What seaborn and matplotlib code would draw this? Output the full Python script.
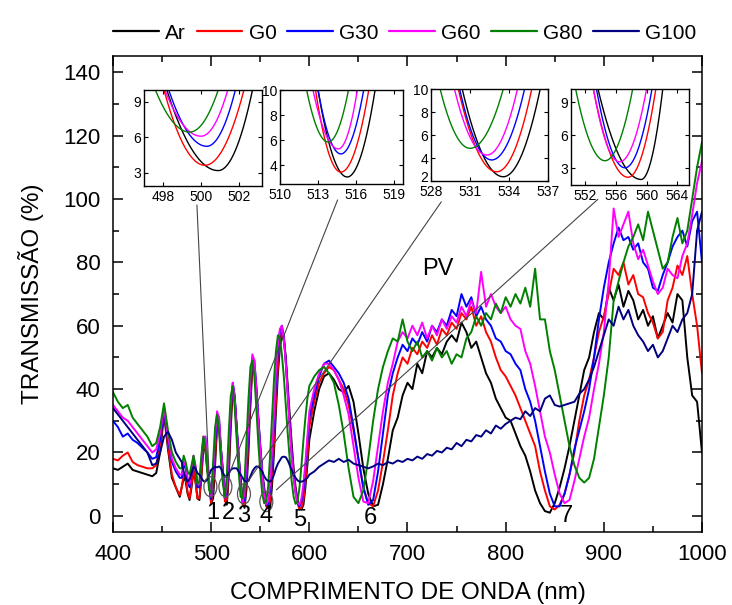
import numpy as np
import pandas as pd
import matplotlib
matplotlib.use("Agg")
import matplotlib.pyplot as plt
import matplotlib.transforms as mtransforms
import seaborn as sns
from matplotlib.patches import Ellipse
from matplotlib.lines import Line2D
from matplotlib.ticker import MultipleLocator

# ---------------- data ----------------
samples = ["Ar", "G0", "G30", "G60", "G80", "G100"]
colors = ["#000000", "#ff0000", "#0000ff", "#ff00ff", "#008000", "#000080"]

wl_a = [400, 405, 410, 415, 420, 425, 430, 435, 440, 444, 448, 452, 456, 460, 464, 468]
wl_b = list(range(470, 601, 2))
wl_c = list(range(605, 1001, 5))
wavelength = wl_a + wl_b + wl_c

ar_a = [15.0, 14.5, 15.5, 16.5, 14.5, 14.0, 13.5, 13.0, 12.5, 13.5, 20, 32, 21, 12, 9, 6]
ar_b = [9, 12, 11, 7, 5, 9, 14, 11, 5.5, 5,
        12, 21, 21, 15, 10.5, 4, 5.5, 16, 28, 28,
        21, 14, 5.5, 3.5, 13, 28, 40, 37, 28, 19,
        12, 5, 2.5, 8.5, 20, 35, 47, 47, 40, 31,
        22, 14, 9, 4.5, 2.4, 2.3, 9.5, 20, 33, 45,
        53, 57, 56, 50, 41, 32, 23, 15, 9, 5,
        2.5, 2, 3.5, 9, 16, 24]
ar_c = [33, 40, 44, 45, 43, 40, 39, 41, 36, 26,
        15, 7, 3, 3.5, 10, 18, 27, 31, 38, 42,
        40, 48, 45, 52, 50, 53, 51, 55, 57, 55,
        61, 58, 53, 55, 50, 45, 42, 37, 34, 31,
        30, 26, 22, 19, 14, 8, 4, 1.5, 1, 4,
        9, 15, 22, 30, 38, 46, 50, 58, 64, 62,
        72, 68, 73, 66, 71, 68, 62, 65, 60, 63,
        56, 60, 64, 61, 70, 68, 50, 38, 36, 20]

g0_a = [18, 17.5, 19, 20, 17, 16, 15.5, 15, 15, 16, 22, 34, 22, 13, 9, 6.5]
g0_b = [9, 13, 12, 7.5, 5.5, 10, 15, 11, 5.5, 5.5,
        13, 22, 22, 15, 10, 3.8, 8.5, 19, 29, 29,
        19, 13, 4.5, 5, 16, 31, 41, 37, 27, 18,
        10.5, 3.5, 3.5, 12, 24, 38, 48, 47, 39, 30,
        20, 13, 7.5, 3, 2.3, 5, 13, 24, 37, 48,
        55, 58, 56, 49, 39, 29, 20, 13, 8, 4,
        2, 2.5, 5, 11, 19, 28]
g0_c = [36, 42, 45, 47, 46, 43, 40, 35, 27, 18,
        9, 4, 3, 8, 17, 27, 38, 45, 50, 48,
        53, 51, 55, 53, 57, 54, 59, 57, 61, 59,
        64, 62, 66, 60, 63, 58, 55, 50, 46, 44,
        41, 38, 34, 30, 26, 22, 14, 8, 3, 2,
        3.5, 7, 13, 20, 30, 38, 43, 50, 58, 63,
        70, 78, 76, 80, 73, 76, 70, 69, 64, 61,
        56, 58, 68, 72, 79, 76, 82, 70, 60, 45]

g30_a = [30, 28, 25, 26, 24, 23, 21.5, 20, 18, 18.5, 24, 33, 24, 17, 14, 12]
g30_b = [12, 16, 15, 11, 9, 13, 18, 15, 9, 9,
         16, 24, 25, 17, 11, 5.3, 11, 22, 32, 31,
         21, 14, 5.5, 7, 19, 33, 42, 38, 28, 19,
         11, 4.2, 5, 15, 27, 40, 50, 49, 41, 31,
         22, 14, 8, 3.5, 3.5, 8, 17, 29, 42, 52,
         58, 60, 57, 49, 39, 29, 20, 13, 7.5, 4,
         3, 4.5, 8, 15, 23, 31]
g30_c = [38, 44, 48, 49, 47, 45, 42, 37, 28, 18,
         9, 3.5, 5, 14, 26, 38, 45, 50, 54, 52,
         56, 54, 58, 55, 60, 58, 62, 60, 65, 63,
         70, 66, 69, 63, 66, 62, 60, 56, 55, 52,
         51, 48, 46, 40, 36, 30, 22, 14, 7, 3,
         3, 7, 13, 21, 27, 33, 40, 50, 62, 72,
         80, 86, 91, 87, 88, 84, 86, 80, 78, 72,
         71, 76, 80, 85, 88, 90, 85, 93, 96, 80]

g60_a = [35, 33, 31, 30, 28, 26, 24, 22, 20, 21, 26, 34, 25, 18, 15, 13]
g60_b = [13, 17, 16, 12, 10, 14, 19, 16, 10, 10,
         17, 25, 25, 17, 10.5, 6.1, 13, 25, 33, 31,
         21, 13, 5.6, 9, 22, 35, 42, 37, 27, 18,
         9.5, 4.3, 7, 18, 30, 43, 51, 49, 40, 30,
         21, 13, 7, 3.7, 4.5, 10, 20, 32, 45, 54,
         59, 60, 56, 48, 38, 28, 19, 12, 7, 4,
         3.5, 5.5, 10, 17, 25, 33]
g60_c = [40, 45, 48, 48, 46, 43, 38, 32, 22, 12,
         4.5, 4, 11, 22, 33, 42, 48, 55, 58, 56,
         60, 57, 61, 56, 60, 57, 62, 59, 63, 61,
         66, 63, 68, 64, 77, 66, 70, 66, 64, 66,
         62, 60, 59, 52, 48, 41, 33, 25, 20, 13,
         7, 4, 5, 11, 18, 25, 31, 40, 48, 58,
         74, 97, 88, 92, 96, 86, 81, 84, 79, 74,
         70, 72, 78, 76, 75, 82, 86, 95, 105, 112]

g80_a = [39, 36, 34, 35, 31, 29, 27, 25, 22, 23, 28, 35.5, 27, 20, 17, 15]
g80_b = [15, 19, 17, 14, 13, 16, 19, 15, 10, 11,
         19, 25, 22, 14, 8, 7, 17, 28, 32, 27,
         17, 10, 5.9, 13, 27, 38, 41, 34, 24, 14,
         6, 5.5, 11, 24, 37, 47, 49, 44, 34, 23,
         14, 7, 4, 4.5, 9, 19, 31, 43, 52, 57,
         56, 51, 44, 35, 26, 18, 11, 6, 3.8, 4.5,
         9, 16, 24, 31, 37, 41]
g80_c = [44, 46, 47, 45, 42, 35, 26, 15, 6, 4,
         8, 18, 30, 40, 47, 52, 56, 55, 62, 55,
         52, 55, 50, 52, 49, 53, 50, 52, 48, 51,
         50, 56, 58, 63, 60, 64, 62, 67, 64, 69,
         66, 70, 67, 72, 66, 78, 62, 62, 52, 46,
         38, 30, 22, 16, 12, 10.5, 12, 18, 28, 38,
         50, 68, 74, 80, 85, 88, 92, 87, 96, 90,
         84, 78, 80, 88, 94, 86, 90, 100, 110, 118]

g100_a = [34, 32, 30, 28, 26, 24, 22, 20, 16, 16.5, 20, 25, 26.5, 24, 20, 18]
g100_b = [17, 14, 12, 10.8, 11.5, 13.5, 15.5, 15, 13.5, 13,
          12, 11, 10.8, 11.5, 13, 14.5, 15, 15.5, 15.3, 15.6,
          15, 13.5, 12.4, 12.5, 13.5, 14.5, 15, 15, 15, 14,
          13, 12, 11, 10.8, 11, 12.5, 14, 15, 15.6, 15.5,
          15, 14, 12.5, 11.5, 11, 10.8, 11.5, 13, 15, 16.5,
          17.5, 18.5, 18.7, 18.5, 17.5, 16, 14.5, 13, 12, 11.2,
          10.8, 10.8, 11, 11.5, 12, 13]
g100_c = [14, 15.5, 16.5, 17.5, 17, 18, 17, 17.7, 16.5, 16,
          15.5, 15, 15.6, 16.5, 16, 17, 16.5, 17.5, 17, 18,
          17.5, 18.7, 18, 19.5, 19, 20.5, 20, 21.5, 21, 23,
          22, 24, 23.5, 25.5, 25, 27, 26, 28.5, 27.5, 29,
          30, 31, 30.5, 33, 31.5, 34, 33, 37, 38, 35,
          34.5, 35, 35.5, 36, 38.5, 40, 43, 47, 52, 57,
          62, 60, 66, 62, 65, 60, 57, 55, 52, 54,
          50, 52, 56, 60, 58, 62, 64, 70, 90, 96]

series = {
    "Ar": ar_a + ar_b + ar_c,
    "G0": g0_a + g0_b + g0_c,
    "G30": g30_a + g30_b + g30_c,
    "G60": g60_a + g60_b + g60_c,
    "G80": g80_a + g80_b + g80_c,
    "G100": g100_a + g100_b + g100_c,
}
for k, v in series.items():
    if len(v) != len(wavelength):
        raise ValueError(f"{k}: {len(v)} vs {len(wavelength)}")

# Inset minima: order Ar, G0, G30, G60, G80
inset_xlims = [(497.0, 503.2), (510.0, 519.7), (528.0, 537.0), (550.2, 565.5)]
inset_ylims = [(1.9, 10.0), (2.5, 10.0), (2.0, 10.0), (1.5, 10.2)]
inset_xticks = [[498, 500, 502], [510, 513, 516, 519], [528, 531, 534, 537], [552, 556, 560, 564]]
inset_yticks = [[3, 6, 9], [4, 6, 8, 10], [2, 4, 6, 8, 10], [3, 6, 9]]
inset_min_x = [[500.9, 500.2, 500.3, 500.0, 499.4],
               [515.3, 514.8, 514.8, 514.6, 513.8],
               [533.56, 533.05, 532.67, 532.3, 531.0],
               [559.3, 557.6, 557.2, 556.5, 554.6]]
inset_min_y = [[3.2, 3.65, 5.25, 6.1, 6.45],
               [3.06, 3.45, 4.9, 5.3, 5.85],
               [2.37, 2.8, 3.83, 4.26, 4.84],
               [2.0, 2.2, 3.06, 3.6, 3.7]]
inset_left_x = [[498.2, 498.05, 498.3, 498.1, 497.6],
                [513.0, 512.8, 513.0, 512.6, 512.1],
                [530.4, 530.1, 530.2, 529.8, 528.7],
                [553.7, 553.1, 553.5, 553.1, 550.8]]
inset_right_x = [[502.7, 502.25, 501.8, 501.4, 500.9],
                 [517.5, 517.0, 516.6, 516.1, 515.4],
                 [536.4, 535.75, 535.2, 534.65, 533.56],
                 [562.1, 561.2, 560.7, 560.0, 558.2]]
# inset boxes in pixels: (left, top, right, bottom)
inset_px = [(144, 90, 262, 186), (280, 90, 403, 184), (431, 89, 548, 181), (571, 89, 689, 185)]

minima_labels = ["1", "2", "3", "4", "5", "6", "7"]
minima_label_x = [501.7, 518.0, 533.4, 555.5, 590.1, 662.1, 861.7]
minima_label_y = [0.9, 0.9, -0.2, -0.2, -1.3, -0.7, -0.2]

circle_x = [499.2, 514.5, 533.4, 556.2]
circle_y = [9.2, 9.2, 6.9, 4.5]
link_start = [(485.5, 98.1), (628.8, 99.7), (734.4, 99.1), (893.9, 99.9)]
link_end = [(498.0, 12.0), (516.8, 12.0), (535.1, 9.8), (566.4, 8.2)]

# ---------------- figure ----------------
sns.set_theme(style="ticks")
plt.rcParams["font.family"] = ["Liberation Sans", "DejaVu Sans"]
plt.rcParams["axes.linewidth"] = 1.1
plt.rcParams["text.color"] = "black"
plt.rcParams["axes.labelcolor"] = "black"
plt.rcParams["xtick.color"] = "black"
plt.rcParams["ytick.color"] = "black"
plt.rcParams["axes.edgecolor"] = "black"

W, H = 732, 605
fig = plt.figure(figsize=(W / 100, H / 100), dpi=100)
ax = fig.add_axes([113 / W, 1 - 531.7 / H, (702 - 113) / W, (531.7 - 56.4) / H])

df = pd.DataFrame({
    "wavelength": np.tile(wavelength, len(samples)),
    "T": np.concatenate([series[s] for s in samples]),
    "sample": np.repeat(samples, len(wavelength)),
})
palette = dict(zip(samples, colors))
sns.lineplot(data=df, x="wavelength", y="T", hue="sample", hue_order=samples,
             palette=palette, estimator=None, sort=False, linewidth=1.4,
             legend=False, ax=ax)

ax.set_xlim(400, 1000)
ax.set_ylim(-5, 145)
ax.xaxis.set_major_locator(MultipleLocator(100))
ax.xaxis.set_minor_locator(MultipleLocator(50))
ax.yaxis.set_major_locator(MultipleLocator(20))
ax.yaxis.set_minor_locator(MultipleLocator(10))
ax.tick_params(which="both", direction="in", top=True, right=True, width=1.1,
               labelsize=16, colors="black")
ax.tick_params(which="major", length=7, pad=9)
ax.tick_params(which="minor", length=4)
ax.set_yticks([0, 20, 40, 60, 80, 100, 120, 140])
ax.set_xlabel("COMPRIMENTO DE ONDA (nm)", fontsize=17.5, labelpad=12, color="black")
ax.set_ylabel("TRANSMISSÃO (%)", fontsize=17.5, labelpad=14, color="black")

# circles and links
for cx, cy in zip(circle_x, circle_y):
    ax.add_patch(Ellipse((cx, cy), 13.2, 6.3, fill=False, edgecolor="#555555", lw=0.9, zorder=5))
for (x0, y0), (x1, y1) in zip(link_start, link_end):
    ax.plot([x0, x1], [y0, y1], color="#444444", lw=0.8, zorder=5)

for t, x, y in zip(minima_labels, minima_label_x, minima_label_y):
    ax.text(x, y, t, fontsize=17, ha="center", va="center", color="black", zorder=6)
ax.text(731, 78, "PV", fontsize=17, ha="center", va="center", color="black")

# insets
for i in range(4):
    l, t, r, b = inset_px[i]
    iax = fig.add_axes([l / W, 1 - b / H, (r - l) / W, (b - t) / H])
    iax.set_facecolor("white")
    x0, x1 = inset_xlims[i]
    ytop = inset_ylims[i][1]
    rows = []
    for j, s in enumerate(samples[:5]):
        m = inset_min_x[i][j]
        v = inset_min_y[i][j]
        L = inset_left_x[i][j]
        R = inset_right_x[i][j]
        xs = np.linspace(x0, x1, 300)
        hw = np.where(xs < m, m - L, R - m)
        ys = v + (ytop - v) * ((xs - m) / hw) ** 2
        rows.append(pd.DataFrame({"x": xs, "y": ys, "sample": s}))
    idf = pd.concat(rows, ignore_index=True)
    sns.lineplot(data=idf, x="x", y="y", hue="sample", hue_order=samples[:5],
                 palette=palette, estimator=None, sort=False, linewidth=1.0,
                 legend=False, ax=iax)
    iax.set_xlim(x0, x1)
    iax.set_ylim(*inset_ylims[i])
    iax.set_xticks(inset_xticks[i])
    iax.set_yticks(inset_yticks[i])
    iax.tick_params(direction="in", top=True, right=True, length=3, width=0.8,
                    labelsize=10, pad=2, colors="black")
    iax.tick_params(axis="x", pad=3)
    iax.set_xlabel("")
    iax.set_ylabel("")
    for sp in iax.spines.values():
        sp.set_linewidth(1.0)
        sp.set_color("black")
    if i == 2:
        # lift the lowest y label slightly so it does not touch the x labels
        lab = iax.get_yticklabels()[0]
        lab.set_transform(lab.get_transform() + mtransforms.ScaledTranslation(0, 3 / 72, fig.dpi_scale_trans))

handles = [Line2D([], [], color=c, lw=1.6) for c in colors]
fig.legend(handles, samples, loc="center", bbox_to_anchor=(0.553, 0.945), ncol=6,
           frameon=False, fontsize=15, handlelength=2.2, handletextpad=0.3,
           columnspacing=0.5)

fig.savefig("out.png", dpi=100)
